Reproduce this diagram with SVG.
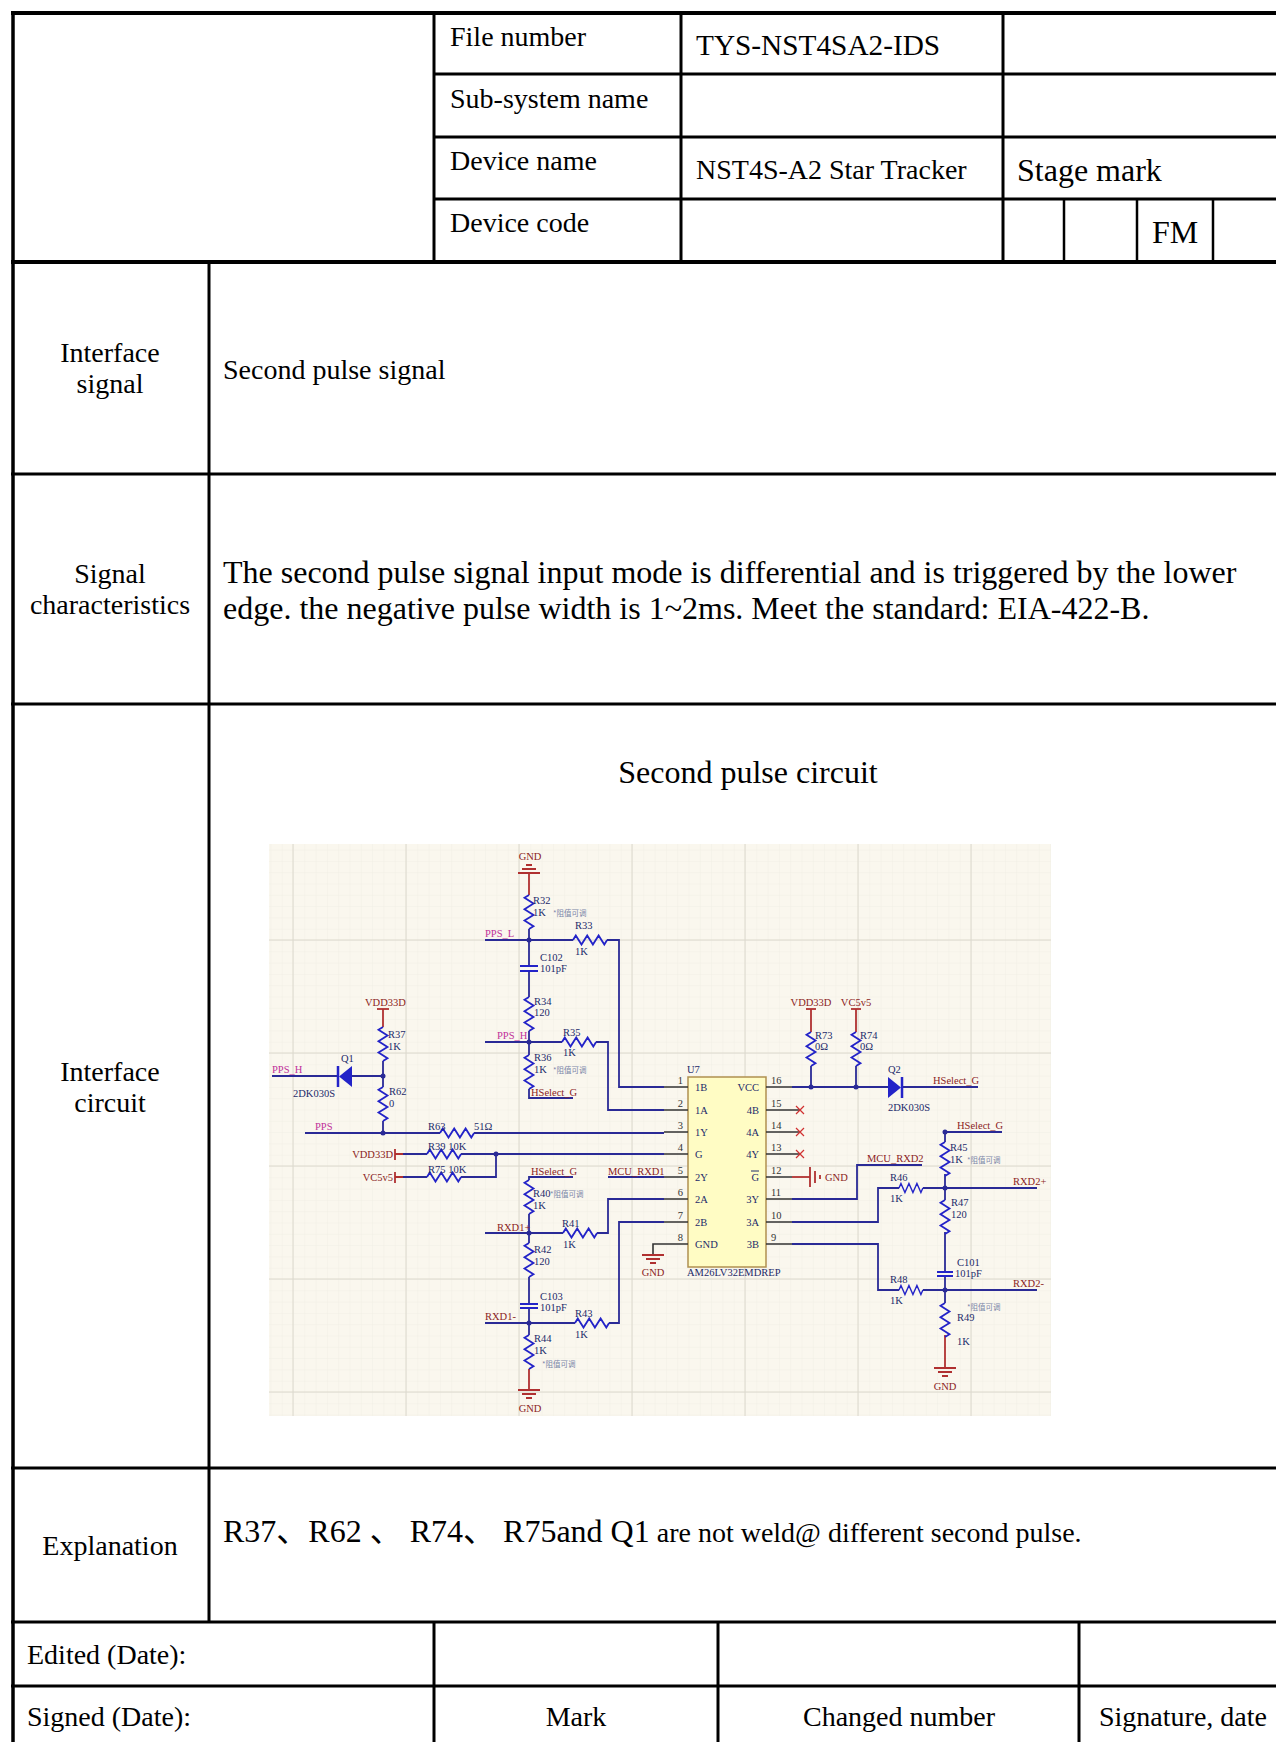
<svg xmlns="http://www.w3.org/2000/svg" width="1276" height="1742" viewBox="0 0 1276 1742">
<style>
.t{font-family:"Liberation Serif","Times New Roman",serif;font-size:28px;fill:#000}
.b{font-size:32px}
.c{text-anchor:middle}
.tl{stroke:#000;fill:none}
.s{font-family:"Liberation Serif","Times New Roman",serif;font-size:10.5px}
.cmp{fill:#1c2a6a}
.net{fill:#8b2323}
.pps{fill:#c0309a}
.pin{fill:#333}
.note{font-family:"Noto Sans CJK SC","Noto Sans",sans-serif;font-size:7.5px;fill:#7a86a8}
.w{stroke:#2a2a96;stroke-width:1.8;fill:none}
.ws{stroke:#333;stroke-width:1.6;fill:none}
.pw{stroke:#b03030;stroke-width:1.8;fill:none}
.r{stroke:#2323c8;stroke-width:1.8;fill:none;stroke-linejoin:miter}
.cap{stroke:#2323c8;stroke-width:2.2;fill:none}
.nc{stroke:#d03030;stroke-width:1.2}
.dot{fill:#2a2a96}
</style>
<defs>
<path id="rv" d="M0,0 l-4.5,2.8 l9,5.7 l-9,5.7 l9,5.7 l-9,5.7 l9,5.7 l-4.5,2.8"/>
<path id="rh" d="M0,0 l2.8,-4.5 l5.7,9 l5.7,-9 l5.7,9 l5.7,-9 l5.7,9 l2.8,-4.5"/>
<path id="gnd" d="M-11,0 h22 M-7,4 h14 M-3,8 h6"/>
<pattern id="minor" width="11.3" height="11.3" patternUnits="userSpaceOnUse" x="293" y="940">
<path d="M0,0 h11.3 M0,0 v11.3" stroke="#efebe1" stroke-width="0.8" fill="none"/>
</pattern>
</defs>

<!-- TABLE -->
<g id="table">
<rect x="0" y="0" width="1276" height="1742" fill="#fff"/>
<line class="tl" x1="11" y1="13" x2="1276" y2="13" stroke-width="4"/>
<line class="tl" x1="434" y1="74" x2="1276" y2="74" stroke-width="3"/>
<line class="tl" x1="434" y1="137" x2="1276" y2="137" stroke-width="3"/>
<line class="tl" x1="434" y1="199" x2="1276" y2="199" stroke-width="3"/>
<line class="tl" x1="11" y1="262" x2="1276" y2="262" stroke-width="4"/>
<line class="tl" x1="11" y1="474" x2="1276" y2="474" stroke-width="3"/>
<line class="tl" x1="11" y1="704" x2="1276" y2="704" stroke-width="3"/>
<line class="tl" x1="11" y1="1468" x2="1276" y2="1468" stroke-width="3"/>
<line class="tl" x1="11" y1="1622" x2="1276" y2="1622" stroke-width="3"/>
<line class="tl" x1="11" y1="1686" x2="1276" y2="1686" stroke-width="3"/>
<line class="tl" x1="13" y1="11" x2="13" y2="1742" stroke-width="3.5"/>
<line class="tl" x1="434" y1="13" x2="434" y2="262" stroke-width="3"/>
<line class="tl" x1="681" y1="13" x2="681" y2="262" stroke-width="3"/>
<line class="tl" x1="1003" y1="13" x2="1003" y2="262" stroke-width="3"/>
<line class="tl" x1="1064" y1="199" x2="1064" y2="262" stroke-width="2.5"/>
<line class="tl" x1="1137" y1="199" x2="1137" y2="262" stroke-width="2.5"/>
<line class="tl" x1="1213" y1="199" x2="1213" y2="262" stroke-width="2.5"/>
<line class="tl" x1="209" y1="262" x2="209" y2="1622" stroke-width="3"/>
<line class="tl" x1="434" y1="1622" x2="434" y2="1742" stroke-width="3"/>
<line class="tl" x1="718" y1="1622" x2="718" y2="1742" stroke-width="3"/>
<line class="tl" x1="1079" y1="1622" x2="1079" y2="1742" stroke-width="3"/>

<text class="t" x="450" y="46">File number</text>
<text class="t" x="696" y="55" style="font-size:29.3px">TYS-NST4SA2-IDS</text>
<text class="t" x="450" y="108">Sub-system name</text>
<text class="t" x="450" y="170">Device name</text>
<text class="t" x="696" y="179">NST4S-A2 Star Tracker</text>
<text class="t b" x="1017" y="181">Stage mark</text>
<text class="t b" x="1152" y="243">FM</text>

<text class="t" x="450" y="232">Device code</text>

<text class="t c" x="110" y="362">Interface</text>
<text class="t c" x="110" y="393">signal</text>
<text class="t" x="223" y="379">Second pulse signal</text>

<text class="t c" x="110" y="583">Signal</text>
<text class="t c" x="110" y="614">characteristics</text>
<text class="t b" x="223" y="583">The second pulse signal input mode is differential and is triggered by the lower</text>
<text class="t b" x="223" y="619">edge. the negative pulse width is 1~2ms. Meet the standard: EIA-422-B.</text>

<text class="t b c" x="748" y="783">Second pulse circuit</text>
<text class="t c" x="110" y="1081">Interface</text>
<text class="t c" x="110" y="1112">circuit</text>

<text class="t c" x="110" y="1555">Explanation</text>
<text class="t" x="223" y="1542"><tspan style="font-size:32px;font-family:'Liberation Serif','Noto Sans CJK SC',serif">R37、R62 、 R74、 R75and Q1</tspan> are not weld@ different second pulse.</text>

<text class="t" x="27" y="1664">Edited (Date):</text>
<text class="t" x="27" y="1726">Signed (Date):</text>
<text class="t c" x="576" y="1726">Mark</text>
<text class="t c" x="899" y="1726">Changed number</text>
<text class="t" x="1099" y="1726">Signature, date</text>
</g>

<!-- SCHEMATIC BACKGROUND -->
<g id="schematic-bg">
<rect x="269" y="844" width="782" height="572" fill="#faf7ee"/>
<rect x="269" y="844" width="782" height="572" fill="url(#minor)"/>
<g stroke="#dcd8cd" stroke-width="1">
<line x1="293" y1="844" x2="293" y2="1416"/>
<line x1="406" y1="844" x2="406" y2="1416"/>
<line x1="519" y1="844" x2="519" y2="1416"/>
<line x1="632" y1="844" x2="632" y2="1416"/>
<line x1="745" y1="844" x2="745" y2="1416"/>
<line x1="858" y1="844" x2="858" y2="1416"/>
<line x1="971" y1="844" x2="971" y2="1416"/>
<line x1="269" y1="940" x2="1051" y2="940"/>
<line x1="269" y1="1053" x2="1051" y2="1053"/>
<line x1="269" y1="1166" x2="1051" y2="1166"/>
<line x1="269" y1="1279" x2="1051" y2="1279"/>
<line x1="269" y1="1392" x2="1051" y2="1392"/>
</g>
</g>

<!-- CONNECTORS (wires) -->
<g id="connectors">
<path class="pw" d="M529,873 V895"/>
<path class="w" d="M529,929 V966 M529,971 V997 M529,1031 V1055 M529,1089 V1098 H573"/>
<path class="w" d="M485,940 H573 M607,940 H619 V1087 H664"/>
<path class="w" d="M485,1042 H562 M596,1042 H608 V1110 H664"/>
<path class="pw" d="M383,1009 V1027"/>
<path class="w" d="M383,1061 V1087 M383,1121 V1133"/>
<path class="w" d="M272,1076 H337 M351,1076 H383"/>
<path class="w" d="M305,1133 H440 M474,1133 H664"/>
<path class="pw" d="M395,1154 H403 M395,1177 H403"/>
<path class="w" d="M403,1154 H427 M461,1154 H664 M403,1177 H427 M461,1177 H496 V1154"/>
<path class="w" d="M573,1177 H529 V1180 M529,1214 V1243 M529,1277 V1304 M529,1308 V1335"/>
<path class="pw" d="M529,1369 V1390"/>
<path class="w" d="M485,1233 H563 M597,1233 H608 V1199 H664"/>
<path class="w" d="M485,1323 H575 M609,1323 H619 V1222 H664"/>
<path class="w" d="M608,1177 H664"/>
<path class="ws" d="M664,1244 H653 V1255"/>
<path class="w" d="M792,1087 H888 M903,1087 H978"/>
<path class="pw" d="M811,1009 V1032 M856,1009 V1032"/>
<path class="w" d="M811,1066 V1087 M856,1066 V1087"/>
<path class="pw" d="M792,1177 H810"/>
<path class="w" d="M792,1199 H857 V1165 H922"/>
<path class="w" d="M792,1222 H878 V1188 H899 M923,1188 H1037"/>
<path class="w" d="M792,1244 H878 V1290 H899 M923,1290 H1037"/>
<path class="w" d="M945,1132 H1002 M945,1132 V1142 M945,1174 V1200 M945,1232 V1272 M945,1276 V1303"/>
<path class="pw" d="M945,1335 V1368"/>
</g>

<g id="gnd-top">
<use href="#gnd" transform="translate(529,873) scale(1,-1)" class="pw"/>
<text class="s net c" x="530" y="860">GND</text>
</g>
<g id="R32"><use href="#rv" x="529" y="895" class="r"/>
<text class="s cmp" x="533" y="904">R32</text><text class="s cmp" x="533" y="916">1K</text><text class="note" x="553" y="916">*阻值可调</text></g>
<g id="R33"><use href="#rh" x="573" y="940" class="r"/>
<text class="s cmp" x="575" y="929">R33</text><text class="s cmp" x="575" y="955">1K</text></g>
<g id="PPS_L"><text class="s pps" x="485" y="937">PPS_L</text></g>
<g id="C102"><path class="cap" d="M520,966 H538 M520,971 H538"/>
<text class="s cmp" x="540" y="961">C102</text><text class="s cmp" x="540" y="972">101pF</text></g>
<g id="R34"><use href="#rv" x="529" y="997" class="r"/>
<text class="s cmp" x="534" y="1005">R34</text><text class="s cmp" x="534" y="1016">120</text></g>
<g id="PPS_H"><text class="s pps" x="497" y="1039">PPS_H</text></g>
<g id="R35"><use href="#rh" x="562" y="1042" class="r"/>
<text class="s cmp" x="563" y="1036">R35</text><text class="s cmp" x="563" y="1056">1K</text></g>
<g id="R36"><use href="#rv" x="529" y="1055" class="r"/>
<text class="s cmp" x="534" y="1061">R36</text><text class="s cmp" x="534" y="1073">1K</text><text class="note" x="553" y="1073">*阻值可调</text></g>
<g id="HSelect_G_1"><text class="s net" x="531" y="1096">HSelect_G</text></g>

<g id="VDD33D_1"><path class="pw" d="M377,1009 H389"/><text class="s net" x="365" y="1006">VDD33D</text></g>
<g id="R37"><use href="#rv" x="383" y="1027" class="r"/>
<text class="s cmp" x="388" y="1038">R37</text><text class="s cmp" x="388" y="1050">1K</text></g>
<g id="R62"><use href="#rv" x="383" y="1087" class="r"/>
<text class="s cmp" x="389" y="1095">R62</text><text class="s cmp" x="389" y="1107">0</text></g>
<g id="PPS_H_left"><text class="s pps" x="272" y="1073">PPS_H</text></g>
<g id="Q1"><path d="M338,1066 V1087" stroke="#2323c8" stroke-width="2.5"/>
<path d="M339,1076.5 L352,1066 L352,1087 Z" fill="#2323c8"/>
<text class="s cmp" x="341" y="1062">Q1</text><text class="s cmp" x="293" y="1097">2DK030S</text></g>
<g id="PPS"><text class="s pps" x="315" y="1130">PPS</text></g>
<g id="R63"><use href="#rh" x="440" y="1133" class="r"/>
<text class="s cmp" x="428" y="1130">R63</text><text class="s cmp" x="474" y="1130">51Ω</text></g>
<g id="VDD33D_2"><path class="pw" d="M395,1149 V1160"/><text class="s net" x="393" y="1158" text-anchor="end">VDD33D</text></g>
<g id="R39"><use href="#rh" x="427" y="1154" class="r"/><text class="s cmp" x="428" y="1150">R39 10K</text></g>
<g id="VC5v5_1"><path class="pw" d="M395,1172 V1183"/><text class="s net" x="393" y="1181" text-anchor="end">VC5v5</text></g>
<g id="R75"><use href="#rh" x="427" y="1177" class="r"/><text class="s cmp" x="428" y="1173">R75 10K</text></g>

<g id="HSelect_G_2"><text class="s net" x="531" y="1175">HSelect_G</text></g>
<g id="MCU_RXD1"><text class="s net" x="608" y="1175">MCU_RXD1</text></g>
<g id="R40"><use href="#rv" x="529" y="1180" class="r"/>
<text class="s cmp" x="533" y="1197">R40</text><text class="note" x="550" y="1197">*阻值可调</text><text class="s cmp" x="533" y="1209">1K</text></g>
<g id="RXD1p"><text class="s net" x="497" y="1231">RXD1+</text></g>
<g id="R41"><use href="#rh" x="563" y="1233" class="r"/>
<text class="s cmp" x="562" y="1227">R41</text><text class="s cmp" x="563" y="1248">1K</text></g>
<g id="R42"><use href="#rv" x="529" y="1243" class="r"/>
<text class="s cmp" x="534" y="1253">R42</text><text class="s cmp" x="534" y="1265">120</text></g>
<g id="C103"><path class="cap" d="M520,1304 H538 M520,1308 H538"/>
<text class="s cmp" x="540" y="1300">C103</text><text class="s cmp" x="540" y="1311">101pF</text></g>
<g id="RXD1m"><text class="s net" x="485" y="1320">RXD1-</text></g>
<g id="R43"><use href="#rh" x="575" y="1323" class="r"/>
<text class="s cmp" x="575" y="1317">R43</text><text class="s cmp" x="575" y="1338">1K</text></g>
<g id="R44"><use href="#rv" x="529" y="1335" class="r"/>
<text class="s cmp" x="534" y="1342">R44</text><text class="s cmp" x="534" y="1354">1K</text><text class="note" x="542" y="1367">*阻值可调</text></g>
<g id="gnd-bottom"><use href="#gnd" x="529" y="1390" class="pw"/><text class="s net c" x="530" y="1412">GND</text></g>

<g id="U7">
<rect x="688" y="1077" width="78" height="190" fill="#fffcc4" stroke="#b09050" stroke-width="1.5"/>
<text class="s cmp" x="687" y="1073">U7</text>
<path class="ws" d="M664,1087 H688 M664,1110 H688 M664,1132 H688 M664,1154 H688 M664,1177 H688 M664,1199 H688 M664,1222 H688 M664,1244 H688"/>
<path class="ws" d="M766,1087 H792 M766,1110 H800 M766,1132 H800 M766,1154 H800 M766,1177 H792 M766,1199 H792 M766,1222 H792 M766,1244 H792"/>
<g class="s pin" text-anchor="end">
<text x="683" y="1084">1</text><text x="683" y="1107">2</text><text x="683" y="1129">3</text><text x="683" y="1151">4</text>
<text x="683" y="1174">5</text><text x="683" y="1196">6</text><text x="683" y="1219">7</text><text x="683" y="1241">8</text>
</g>
<g class="s pin">
<text x="771" y="1084">16</text><text x="771" y="1107">15</text><text x="771" y="1129">14</text><text x="771" y="1151">13</text>
<text x="771" y="1174">12</text><text x="771" y="1196">11</text><text x="771" y="1219">10</text><text x="771" y="1241">9</text>
</g>
<g class="s cmp">
<text x="695" y="1091">1B</text><text x="695" y="1114">1A</text><text x="695" y="1136">1Y</text><text x="695" y="1158">G</text>
<text x="695" y="1181">2Y</text><text x="695" y="1203">2A</text><text x="695" y="1226">2B</text><text x="695" y="1248">GND</text>
</g>
<g class="s cmp" text-anchor="end">
<text x="759" y="1091">VCC</text><text x="759" y="1114">4B</text><text x="759" y="1136">4A</text><text x="759" y="1158">4Y</text>
<text x="759" y="1181">G</text><text x="759" y="1203">3Y</text><text x="759" y="1226">3A</text><text x="759" y="1248">3B</text>
</g>
<line x1="751" y1="1171" x2="759" y2="1171" stroke="#1c2a6a" stroke-width="1"/>
<text class="s cmp" x="687" y="1276">AM26LV32EMDREP</text>
</g>
<g id="noconnect">
<path class="nc" d="M796,1106 l8,8 M804,1106 l-8,8 M796,1128 l8,8 M804,1128 l-8,8 M796,1150 l8,8 M804,1150 l-8,8"/>
</g>
<g id="gnd-u7"><use href="#gnd" x="653" y="1255" class="pw"/><text class="s net c" x="653" y="1276">GND</text></g>
<g id="gnd-pin12"><path class="pw" d="M810,1167 V1187 M815,1171 V1183 M820,1175 V1179"/><text class="s net" x="825" y="1181">GND</text></g>

<g id="VDD33D_3"><path class="pw" d="M806,1009 H816"/><text class="s net c" x="811" y="1006">VDD33D</text></g>
<g id="VC5v5_2"><path class="pw" d="M851,1009 H861"/><text class="s net c" x="856" y="1006">VC5v5</text></g>
<g id="R73"><use href="#rv" x="811" y="1032" class="r"/>
<text class="s cmp" x="815" y="1039">R73</text><text class="s cmp" x="815" y="1050">0Ω</text></g>
<g id="R74"><use href="#rv" x="856" y="1032" class="r"/>
<text class="s cmp" x="860" y="1039">R74</text><text class="s cmp" x="860" y="1050">0Ω</text></g>
<g id="Q2"><path d="M888,1077 L888,1098 L901,1087.5 Z" fill="#2323c8"/>
<path d="M902,1077 V1098" stroke="#2323c8" stroke-width="2.5"/>
<text class="s cmp" x="888" y="1073">Q2</text><text class="s cmp" x="888" y="1111">2DK030S</text></g>
<g id="HSelect_G_3"><text class="s net" x="933" y="1084">HSelect_G</text></g>
<g id="HSelect_G_4"><text class="s net" x="957" y="1129">HSelect_G</text></g>
<g id="R45"><use href="#rv" x="945" y="1142" class="r"/>
<text class="s cmp" x="950" y="1151">R45</text><text class="s cmp" x="950" y="1163">1K</text><text class="note" x="967" y="1163">*阻值可调</text></g>
<g id="MCU_RXD2"><text class="s net" x="867" y="1162">MCU_RXD2</text></g>
<g id="R46"><use href="#rh" transform="translate(899,1188) scale(0.7,1)" class="r"/>
<text class="s cmp" x="890" y="1181">R46</text><text class="s cmp" x="890" y="1202">1K</text></g>
<g id="RXD2p"><text class="s net" x="1013" y="1185">RXD2+</text></g>
<g id="R47"><use href="#rv" x="945" y="1200" class="r"/>
<text class="s cmp" x="951" y="1206">R47</text><text class="s cmp" x="951" y="1218">120</text></g>
<g id="C101"><path class="cap" d="M937,1272 H953 M937,1276 H953"/>
<text class="s cmp" x="957" y="1266">C101</text><text class="s cmp" x="955" y="1277">101pF</text></g>
<g id="R48"><use href="#rh" transform="translate(899,1290) scale(0.7,1)" class="r"/>
<text class="s cmp" x="890" y="1283">R48</text><text class="s cmp" x="890" y="1304">1K</text></g>
<g id="RXD2m"><text class="s net" x="1013" y="1287">RXD2-</text></g>
<g id="R49"><use href="#rv" x="945" y="1303" class="r"/>
<text class="note" x="967" y="1310">*阻值可调</text><text class="s cmp" x="957" y="1321">R49</text><text class="s cmp" x="957" y="1345">1K</text></g>
<g id="gnd-right"><use href="#gnd" x="945" y="1368" class="pw"/><text class="s net c" x="945" y="1390">GND</text></g>

<g id="junctions" class="dot">
<circle cx="529" cy="940" r="2.5"/><circle cx="529" cy="1042" r="2.5"/>
<circle cx="383" cy="1076" r="2.5"/><circle cx="383" cy="1133" r="2.5"/>
<circle cx="496" cy="1154" r="2.5"/><circle cx="529" cy="1233" r="2.5"/>
<circle cx="529" cy="1323" r="2.5"/><circle cx="811" cy="1087" r="2.5"/>
<circle cx="856" cy="1087" r="2.5"/><circle cx="945" cy="1132" r="2.5"/>
<circle cx="945" cy="1188" r="2.5"/><circle cx="945" cy="1290" r="2.5"/>
</g>
</svg>
